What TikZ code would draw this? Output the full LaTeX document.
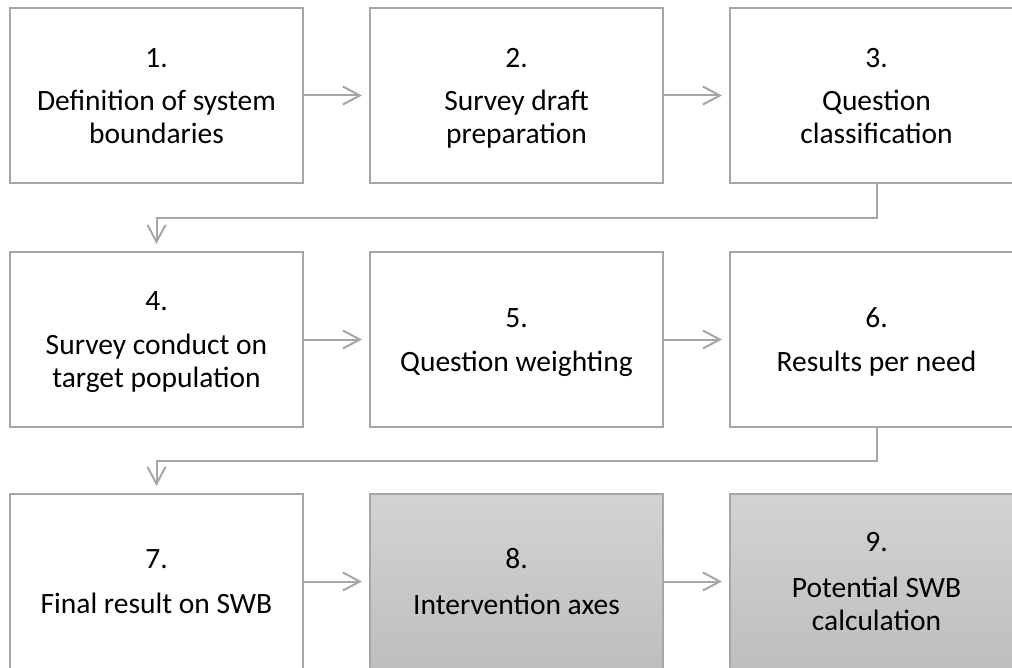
\documentclass[tikz,border=0pt]{standalone}
\usepackage{fontspec}
\setmainfont{Carlito}
\usetikzlibrary{arrows.meta}
\definecolor{linegray}{HTML}{A6A6A6}
\definecolor{topgray}{HTML}{D3D3D3}
\definecolor{botgray}{HTML}{BEBEBE}
\newcommand{\stepnr}[1]{\rule{0pt}{29pt}#1.}
\tikzset{
  stepbox/.style = {draw = linegray, line width = 2pt, fill = white,
    minimum width = 293pt, minimum height = 175pt, inner sep = 0pt,
    align = center, font = \fontsize{29.5}{33}\selectfont,
    execute at end node = \strut},
  shadedbox/.style = {stepbox, top color = topgray, bottom color = botgray},
  flow/.style = {draw = linegray, line width = 2pt, shorten > = 7pt,
    -{Straight Barb[length = 17pt, width = 18pt]}}
}
\begin{document}
\begin{tikzpicture}[x = 1pt, y = -1pt]

      \clip (0, 0) rectangle (1012, 668);

      % first row
      \node[stepbox] (s1) at (156.5, 95.5) {\stepnr{1}\\[10pt]Definition of system\\boundaries};
      \node[stepbox] (s2) at (516.5, 95.5) {\stepnr{2}\\[10pt]Survey draft\\preparation};
      \node[stepbox] (s3) at (876.5, 95.5) {\stepnr{3}\\[10pt]Question\\classification};

      % second row
      \node[stepbox] (s4) at (156.5, 339.5) {\stepnr{4}\\[11pt]Survey conduct on\\target population};
      \node[stepbox] (s5) at (516.5, 339.5) {\stepnr{5}\\[11pt]Question weighting};
      \node[stepbox] (s6) at (876.5, 339.5) {\stepnr{6}\\[11pt]Results per need};

      % third row
      \node[stepbox] (s7) at (156.5, 581.5) {\stepnr{7}\\[12pt]Final result on SWB};
      \node[shadedbox] (s8) at (516.5, 581.5) {\stepnr{8}\\[13pt]Intervention axes};
      \node[shadedbox] (s9) at (876.5, 581.5) {\stepnr{9}\\[13pt]Potential SWB\\calculation};

      \draw[flow] (s1) -- (s2);
      \draw[flow] (s2) -- (s3);
      \draw[flow] (s3.south) -- ++(0, 34) -| (s4.north);
      \draw[flow] (s4) -- (s5);
      \draw[flow] (s5) -- (s6);
      \draw[flow] (s6.south) -- ++(0, 33) -| (s7.north);
      \draw[flow] (s7) -- (s8);
      \draw[flow] (s8) -- (s9);

    \end{tikzpicture}
\end{document}
